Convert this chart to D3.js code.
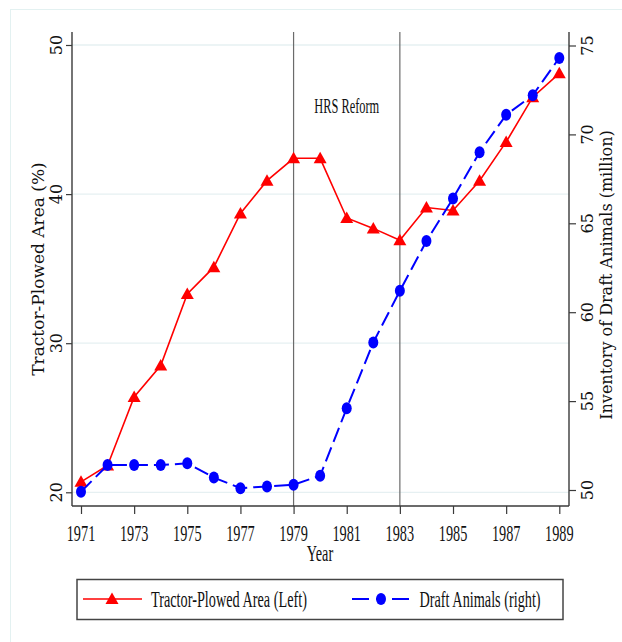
<!DOCTYPE html>
<html>
<head>
<meta charset="utf-8">
<script src="https://cdn.jsdelivr.net/npm/d3@7"></script>
<style>
  body { margin: 0; background: #fff; }
  svg { display: block; }
</style>
</head>
<body>
<div id="chart"></div>
<script>
// data
const years = [1971, 1972, 1973, 1974, 1975, 1976, 1977, 1978, 1979, 1980,
  1981, 1982, 1983, 1984, 1985, 1986, 1987, 1988, 1989];
const tractorArea = [20.7, 21.8, 26.4, 28.5, 33.3, 35.1, 38.7, 40.9, 42.4, 42.4,
  38.4, 37.7, 36.9, 39.1, 38.9, 40.9, 43.5, 46.5, 48.1];
const draftAnimals = [49.9, 51.4, 51.4, 51.4, 51.5, 50.7, 50.1, 50.2, 50.3, 50.8,
  54.6, 58.3, 61.2, 64.0, 66.4, 69.0, 71.1, 72.2, 74.3];
const xTicks = [1971, 1973, 1975, 1977, 1979, 1981, 1983, 1985, 1987, 1989];
const leftTicks = [20, 30, 40, 50];
const rightTicks = [50, 55, 60, 65, 70, 75];
const reformYears = [1979, 1983];

const WIDTH = 622, HEIGHT = 642;
const PLOT = { LEFT: 72, RIGHT: 569, TOP: 32, BOTTOM: 506 };
const SERIF = "'Liberation Serif', 'Times New Roman', serif";
const WIDE_SERIF = "'DejaVu Serif', serif";
const SQUEEZE = 0.62; // the reference's upright text is narrowed

const x = d3.scaleLinear([1971, 1989], [81, 559.3]);
const yLeft = d3.scaleLinear([20, 50], [492.3, 45]);
const yRight = d3.scaleLinear([50, 75], [490, 45.5]);

const svg = d3.select("#chart").append("svg")
  .attr("width", WIDTH).attr("height", HEIGHT);

svg.append("rect").attr("width", WIDTH).attr("height", HEIGHT).attr("fill", "#fff");

// faint outer frame
svg.append("rect")
  .attr("x", 10.5).attr("y", 9.5)
  .attr("width", WIDTH).attr("height", HEIGHT)
  .attr("fill", "none").attr("stroke", "#e3f1f1").attr("stroke-width", 1);

// grid lines at left ticks
svg.append("g").selectAll("line").data(leftTicks).join("line")
  .attr("x1", PLOT.LEFT).attr("x2", PLOT.RIGHT)
  .attr("y1", (d) => yLeft(d)).attr("y2", (d) => yLeft(d))
  .attr("stroke", "#e6f0f2").attr("stroke-width", 1.3);

// reform lines
svg.append("g").selectAll("line").data(reformYears).join("line")
  .attr("x1", (d) => x(d)).attr("x2", (d) => x(d))
  .attr("y1", PLOT.TOP).attr("y2", PLOT.BOTTOM)
  .attr("stroke", "#6b6b6b").attr("stroke-width", 1.2);

const squeezedText = (g, tx, ty, str, size, anchor) =>
  g.append("text")
    .attr("transform", `translate(${tx},${ty}) scale(${SQUEEZE},1)`)
    .attr("text-anchor", anchor)
    .style("font-family", SERIF)
    .style("font-size", `${size}px`)
    .attr("fill", "#111")
    .text(str);

squeezedText(svg, (x(1979) + x(1983)) / 2, 112.7, "HRS Reform", 20, "middle");

// axes
const axisColor = "#3a3a3a";
const xAxis = d3.axisBottom(x).tickValues(xTicks).tickSize(8).tickFormat("");
const xg = svg.append("g").attr("transform", `translate(0,${PLOT.BOTTOM})`).call(xAxis);

const leftAxis = d3.axisLeft(yLeft).tickValues(leftTicks).tickSize(6).tickFormat("");
const lg = svg.append("g").attr("transform", `translate(${PLOT.LEFT},0)`).call(leftAxis);
lg.select(".domain").attr("d", `M0,${PLOT.TOP}V${PLOT.BOTTOM}`);

const rightAxis = d3.axisRight(yRight).tickValues(rightTicks).tickSize(7).tickFormat("");
const rg = svg.append("g").attr("transform", `translate(${PLOT.RIGHT},0)`).call(rightAxis);
rg.select(".domain").attr("d", `M0,${PLOT.TOP}V${PLOT.BOTTOM}`);

xg.select(".domain").attr("d", `M${PLOT.LEFT},0H${PLOT.RIGHT}`);
[xg, lg, rg].forEach((g) => {
  g.selectAll(".domain").attr("stroke", axisColor).attr("stroke-width", 1.4);
  g.selectAll(".tick line").attr("stroke", axisColor).attr("stroke-width", 1.2);
});

// x tick labels
xTicks.forEach((t) => squeezedText(svg, x(t), 540.5, String(t), 23, "middle"));
squeezedText(svg, 320, 561, "Year", 23, "middle");

// rotated y tick labels and titles
const rotatedText = (g, tx, ty, str, size) =>
  g.append("text")
    .attr("transform", `translate(${tx},${ty}) rotate(-90)`)
    .attr("text-anchor", "middle")
    .style("font-family", WIDE_SERIF)
    .style("font-size", `${size}px`)
    .attr("fill", "#111")
    .text(str);

leftTicks.forEach((t) => rotatedText(svg, 62, yLeft(t), String(t), 16));
rightTicks.forEach((t) => rotatedText(svg, 593, yRight(t), String(t), 16));
rotatedText(svg, 44, 269, "Tractor-Plowed Area (%)", 17);
rotatedText(svg, 612, 275, "Inventory of Draft Animals (million)", 16);

// series
const redLine = d3.line().x((d) => x(d[0])).y((d) => yLeft(d[1]));
const blueLine = d3.line().x((d) => x(d[0])).y((d) => yRight(d[1]));
const tractorPts = d3.zip(years, tractorArea);
const animalPts = d3.zip(years, draftAnimals);

const triangle = (cx, cy) => `M${cx},${cy - 6.5}L${cx + 6.5},${cy + 5}L${cx - 6.5},${cy + 5}Z`;

svg.append("path").datum(tractorPts)
  .attr("d", redLine).attr("fill", "none")
  .attr("stroke", "#ff0000").attr("stroke-width", 1.6);
svg.append("g").selectAll("path").data(tractorPts).join("path")
  .attr("d", (d) => triangle(x(d[0]), yLeft(d[1])))
  .attr("fill", "#ff0000");

svg.append("path").datum(animalPts)
  .attr("d", blueLine).attr("fill", "none")
  .attr("stroke", "#0000ff").attr("stroke-width", 2)
  .attr("stroke-dasharray", "15,6");
svg.append("g").selectAll("ellipse").data(animalPts).join("ellipse")
  .attr("cx", (d) => x(d[0])).attr("cy", (d) => yRight(d[1]))
  .attr("rx", 5).attr("ry", 6)
  .attr("fill", "#0000ff");

// legend
const legend = svg.append("g");
legend.append("rect")
  .attr("x", 77).attr("y", 579.5).attr("width", 486).attr("height", 40)
  .attr("fill", "#fff").attr("stroke", "#444").attr("stroke-width", 1.5);
legend.append("line").attr("x1", 83).attr("x2", 142).attr("y1", 599).attr("y2", 599)
  .attr("stroke", "#ff0000").attr("stroke-width", 1.6);
legend.append("path").attr("d", triangle(112, 599)).attr("fill", "#ff0000");
squeezedText(legend, 151, 606.5, "Tractor-Plowed Area (Left)", 23, "start");

legend.append("line").attr("x1", 352).attr("x2", 411).attr("y1", 599).attr("y2", 599)
  .attr("stroke", "#0000ff").attr("stroke-width", 2).attr("stroke-dasharray", "17,7,9,7,17");
legend.append("ellipse").attr("cx", 381).attr("cy", 599).attr("rx", 5).attr("ry", 6)
  .attr("fill", "#0000ff");
squeezedText(legend, 419.5, 606.5, "Draft Animals (right)", 23, "start");
</script>
</body>
</html>
